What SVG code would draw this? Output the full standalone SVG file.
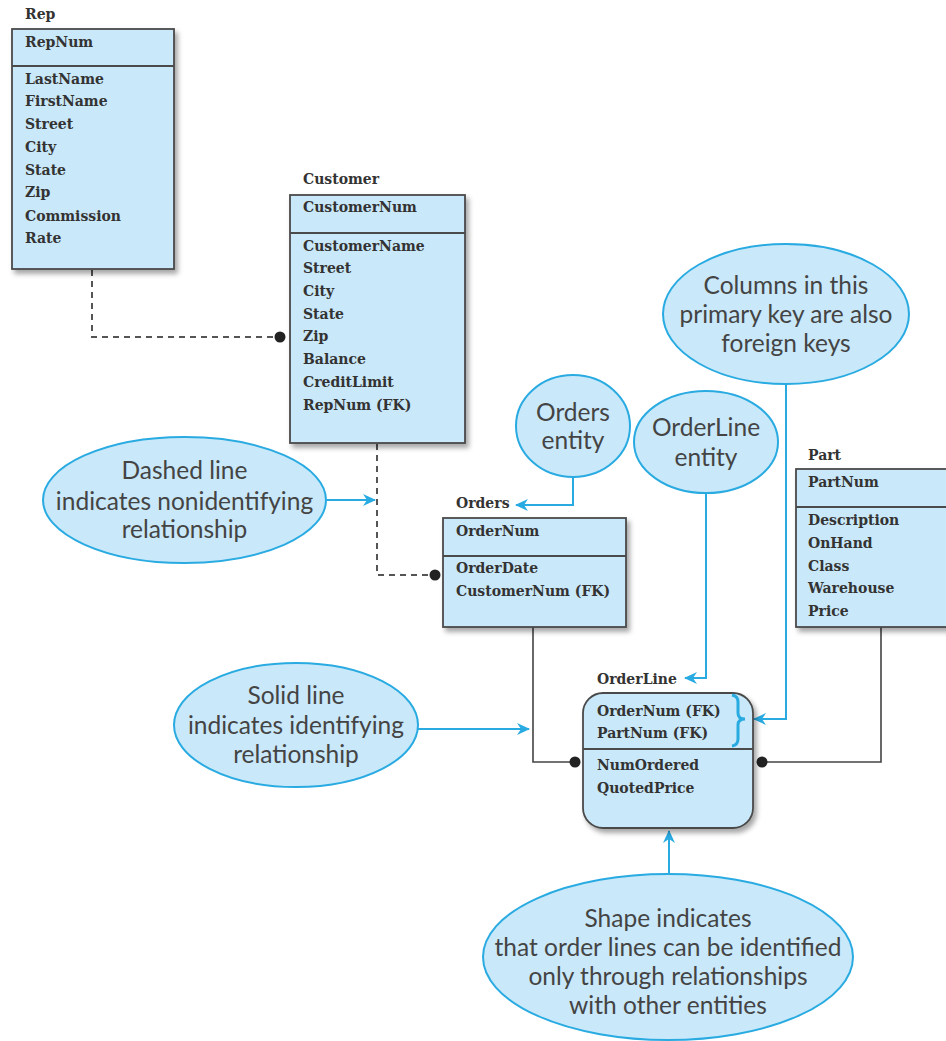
<svg xmlns="http://www.w3.org/2000/svg" width="946" height="1041" viewBox="0 0 946 1041">
<defs>
<filter id="sh" x="-10%" y="-10%" width="130%" height="130%">
<feDropShadow dx="3" dy="4" stdDeviation="2.5" flood-color="#000" flood-opacity="0.35"/>
</filter>
<marker id="ar" markerWidth="14" markerHeight="12" refX="12" refY="6" orient="auto" markerUnits="userSpaceOnUse">
<path d="M0,0 L13,6 L0,12 L4,6 Z" fill="#29abe2"/>
</marker>
</defs>
<style>
.tbl{fill:#c9e8f9;stroke:#4a4a4a;stroke-width:1.8;filter:url(#sh)}
.sep{stroke:#4a4a4a;stroke-width:1.8}
.t{font-family:"DejaVu Serif",serif;font-weight:bold;font-size:14px;fill:#333}
.el{fill:#c9e8f9;stroke:#29abe2;stroke-width:2}
.n{font-family:Lato,"Open Sans",sans-serif;font-size:24.5px;fill:#444;text-anchor:middle}
.dash{fill:none;stroke:#555;stroke-width:2;stroke-dasharray:6,5}
.sol{fill:none;stroke:#444;stroke-width:1.6}
.blue{fill:none;stroke:#29abe2;stroke-width:2}
</style>
<rect width="946" height="1041" fill="#fff"/>

<g id="connectors">
<path class="dash" d="M92,270 V337 H278"/>
<circle cx="280" cy="337" r="5.5" fill="#222"/>
<path class="dash" d="M377,444 V575 H432"/>
<circle cx="435" cy="575" r="5.5" fill="#222"/>
<path class="sol" d="M533,627 V762 H572"/>
<circle cx="575" cy="762" r="5.5" fill="#222"/>
<path class="sol" d="M881,627 V762 H765"/>
<circle cx="762" cy="762" r="5.5" fill="#222"/>
<path class="blue" d="M326,500 H375" marker-end="url(#ar)"/>
<path class="blue" d="M573,477 V505 H516" marker-end="url(#ar)"/>
<path class="blue" d="M706,493 V678 H685" marker-end="url(#ar)"/>
<path class="blue" d="M786,384 V719 H754" marker-end="url(#ar)"/>
<path class="blue" d="M418,729 H529" marker-end="url(#ar)"/>
<path class="blue" d="M669,875 V831" marker-end="url(#ar)"/>
</g>

<g id="rep">
<text class="t" x="25" y="19">Rep</text>
<rect class="tbl" x="12" y="29" width="162" height="240"/>
<line class="sep" x1="12" y1="66" x2="174" y2="66"/>
<text class="t" x="25" y="47">RepNum</text>
<text class="t" x="25" y="84">LastName</text>
<text class="t" x="25" y="106">FirstName</text>
<text class="t" x="25" y="129">Street</text>
<text class="t" x="25" y="152">City</text>
<text class="t" x="25" y="175">State</text>
<text class="t" x="25" y="197">Zip</text>
<text class="t" x="25" y="221">Commission</text>
<text class="t" x="25" y="243">Rate</text>
</g>

<g id="customer">
<text class="t" x="303" y="184">Customer</text>
<rect class="tbl" x="290" y="195" width="175" height="248"/>
<line class="sep" x1="290" y1="233" x2="465" y2="233"/>
<text class="t" x="303" y="212">CustomerNum</text>
<text class="t" x="303" y="251">CustomerName</text>
<text class="t" x="303" y="273">Street</text>
<text class="t" x="303" y="296">City</text>
<text class="t" x="303" y="319">State</text>
<text class="t" x="303" y="341">Zip</text>
<text class="t" x="303" y="364">Balance</text>
<text class="t" x="303" y="387">CreditLimit</text>
<text class="t" x="303" y="410">RepNum (FK)</text>
</g>

<g id="orders">
<text class="t" x="456" y="508">Orders</text>
<rect class="tbl" x="443" y="518" width="183" height="109"/>
<line class="sep" x1="443" y1="556" x2="626" y2="556"/>
<text class="t" x="456" y="536">OrderNum</text>
<text class="t" x="456" y="573">OrderDate</text>
<text class="t" x="456" y="596">CustomerNum (FK)</text>
</g>

<g id="part">
<text class="t" x="808" y="460">Part</text>
<rect class="tbl" x="796" y="469" width="160" height="158"/>
<line class="sep" x1="796" y1="507" x2="956" y2="507"/>
<text class="t" x="808" y="487">PartNum</text>
<text class="t" x="808" y="525">Description</text>
<text class="t" x="808" y="548">OnHand</text>
<text class="t" x="808" y="571">Class</text>
<text class="t" x="808" y="593">Warehouse</text>
<text class="t" x="808" y="616">Price</text>
</g>

<g id="orderline">
<text class="t" x="597" y="684">OrderLine</text>
<rect class="tbl" x="583" y="693" width="170" height="135" rx="20" ry="20"/>
<line class="sep" x1="583" y1="749" x2="753" y2="749"/>
<text class="t" x="597" y="716">OrderNum (FK)</text>
<text class="t" x="597" y="738">PartNum (FK)</text>
<text class="t" x="597" y="770">NumOrdered</text>
<text class="t" x="597" y="793">QuotedPrice</text>
<path d="M732,695 Q738,696 738,702 V713 Q738,719 745,719 Q738,719 738,725 V739 Q738,745 732,746" fill="none" stroke="#29abe2" stroke-width="3"/>
</g>

<g id="note-columns">
<ellipse class="el" cx="786" cy="314" rx="123" ry="70"/>
<text class="n" x="786" y="294">Columns in this</text>
<text class="n" x="786" y="323">primary key are also</text>
<text class="n" x="786" y="352">foreign keys</text>
</g>

<g id="note-orders">
<ellipse class="el" cx="573" cy="426" rx="57" ry="51"/>
<text class="n" x="573" y="421">Orders</text>
<text class="n" x="573" y="449">entity</text>
</g>

<g id="note-orderline">
<ellipse class="el" cx="706" cy="442" rx="72" ry="51"/>
<text class="n" x="706" y="436">OrderLine</text>
<text class="n" x="706" y="466">entity</text>
</g>

<g id="note-dashed">
<ellipse class="el" cx="184.5" cy="500" rx="141.5" ry="63"/>
<text class="n" x="184.5" y="479">Dashed line</text>
<text class="n" x="184.5" y="510">indicates nonidentifying</text>
<text class="n" x="184.5" y="538">relationship</text>
</g>

<g id="note-solid">
<ellipse class="el" cx="296" cy="725" rx="122" ry="62"/>
<text class="n" x="296" y="704">Solid line</text>
<text class="n" x="296" y="734">indicates identifying</text>
<text class="n" x="296" y="763">relationship</text>
</g>

<g id="note-shape">
<ellipse class="el" cx="668" cy="957" rx="185" ry="83"/>
<text class="n" x="668" y="927">Shape indicates</text>
<text class="n" x="668" y="956">that order lines can be identified</text>
<text class="n" x="668" y="985">only through relationships</text>
<text class="n" x="668" y="1014">with other entities</text>
</g>
</svg>
